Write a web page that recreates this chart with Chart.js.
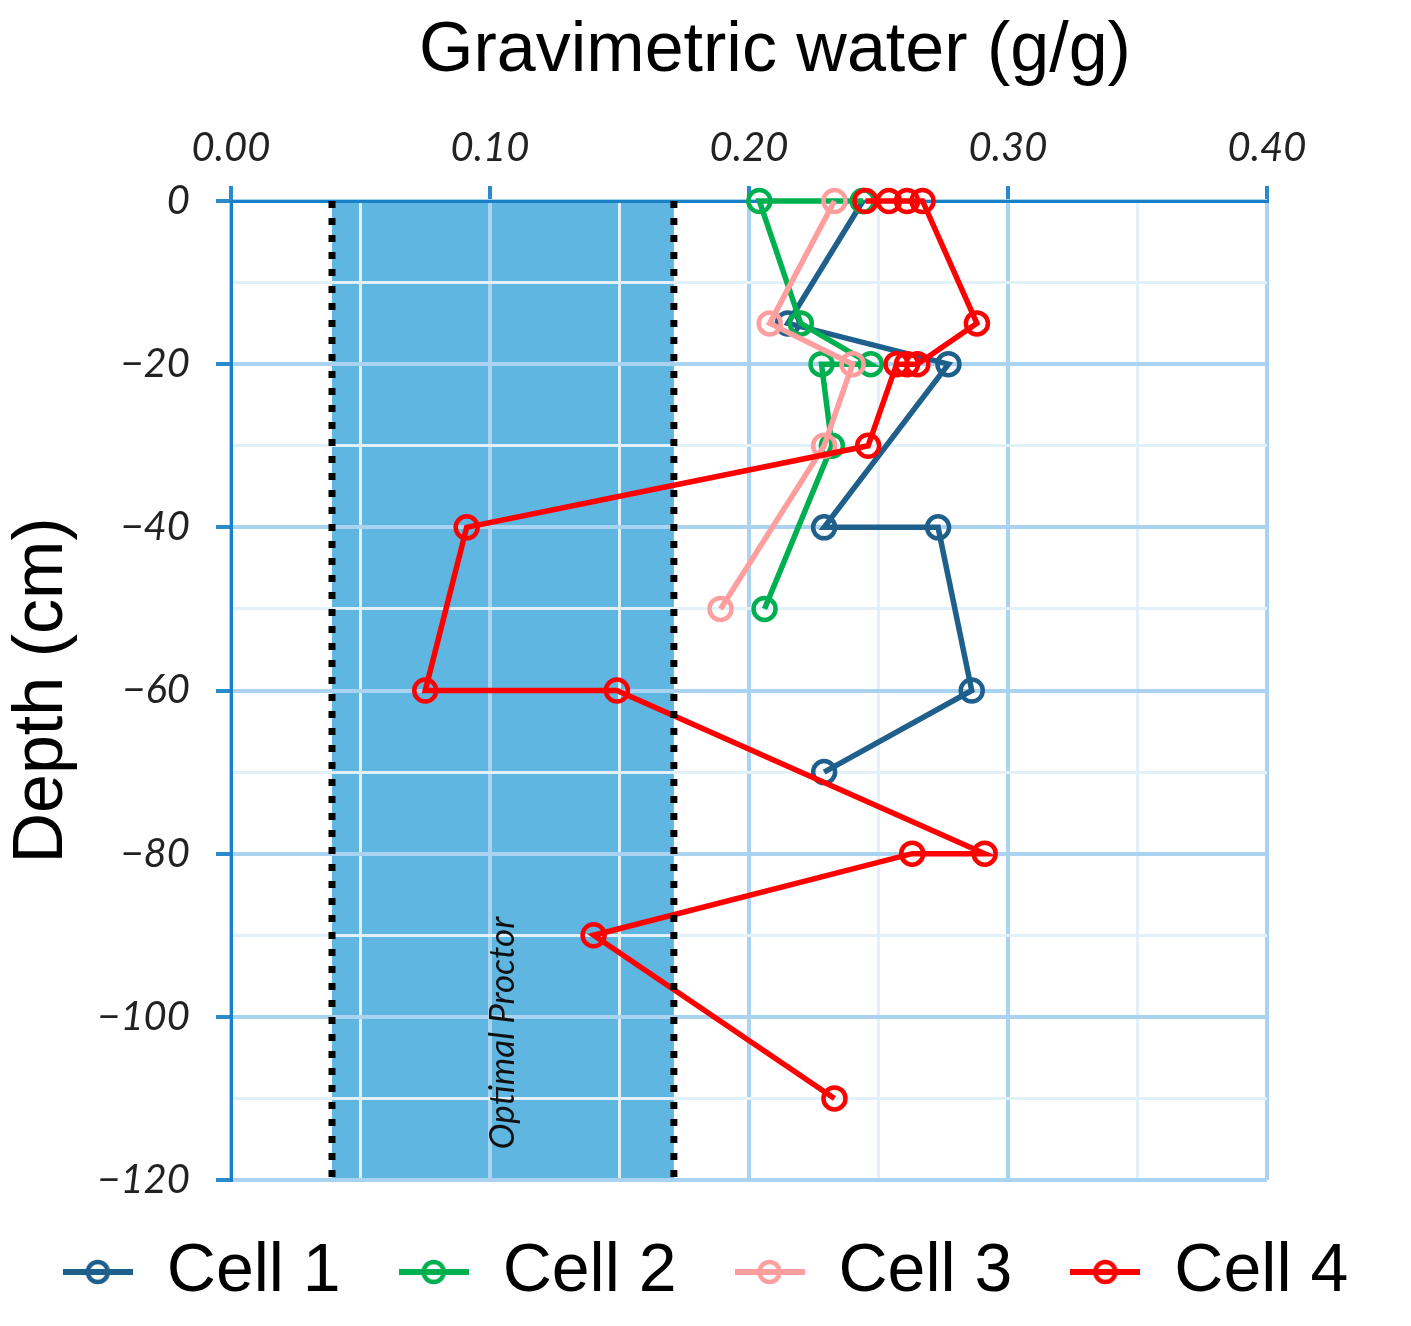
<!DOCTYPE html>
<html>
<head>
<meta charset="utf-8">
<script src="https://cdn.jsdelivr.net/npm/chart.js@4.4.1/dist/chart.umd.min.js"></script>
<style>
body{margin:0;background:#fff;}
</style>
</head>
<body>
<canvas id="profile" width="1411" height="1326"></canvas>
<script>
// depth (cm) and gravimetric water (g/g) per cell
var cell1Depth = [0, -15, -20, -40, -40, -60, -70];
var cell1Water = [0.244, 0.215, 0.277, 0.229, 0.273, 0.286, 0.229];
var cell2Depth = [0, 0, -15, -20, -20, -30, -50];
var cell2Water = [0.244, 0.204, 0.220, 0.247, 0.228, 0.232, 0.206];
var cell3Depth = [0, -15, -20, -30, -50];
var cell3Water = [0.233, 0.208, 0.240, 0.229, 0.189];
var cell4Depth = [0, 0, 0, 0, -15, -20, -20, -20, -30, -40, -60, -60, -80, -80, -90, -110];
var cell4Water = [0.245, 0.254, 0.261, 0.267, 0.288, 0.265, 0.261, 0.257, 0.246, 0.091, 0.075, 0.149, 0.291, 0.263, 0.140, 0.233];

var cellNames = ['Cell 1', 'Cell 2', 'Cell 3', 'Cell 4'];
var proctorRange = [0.039, 0.171];   // optimal Proctor band (g/g)
var proctorLabelDepth = -102;
var depthRange = [-120, 0];
var waterRange = [0, 0.4];

var cellColors = ['#1F5F8B', '#00B050', '#FF9E9E', '#FF0000'];
var majorGrid = '#A9D3F0', minorGrid = '#E2F0FA', axisBlue = '#1780C6';

function pts(w, d){ return w.map(function(v, i){ return {x: v, y: d[i]}; }); }

function legendIcon(color){
  var c = document.createElement('canvas');
  c.width = 70; c.height = 32;
  var g = c.getContext('2d');
  g.strokeStyle = color;
  g.lineWidth = 6;
  g.beginPath(); g.moveTo(0, 16); g.lineTo(70, 16); g.stroke();
  g.lineWidth = 4.5;
  g.beginPath(); g.arc(35, 16, 10, 0, Math.PI * 2); g.stroke();
  return c;
}
var icons = cellColors.map(legendIcon);

var series = [
  pts(cell1Water, cell1Depth),
  pts(cell2Water, cell2Depth),
  pts(cell3Water, cell3Depth),
  pts(cell4Water, cell4Depth)
];

var datasets = series.map(function(data, i){
  return {
    label: cellNames[i],
    data: data,
    showLine: true,
    borderColor: cellColors[i],
    borderWidth: 5.5,
    pointRadius: 11,
    pointBorderWidth: 4.5,
    pointBorderColor: cellColors[i],
    pointBackgroundColor: 'rgba(0,0,0,0)',
    order: 4 - i,
    clip: false
  };
});
proctorRange.forEach(function(p){
  datasets.push({
    label: '',
    data: [{x: p, y: depthRange[1]}, {x: p, y: depthRange[0]}],
    showLine: true,
    borderColor: '#000',
    borderWidth: 7,
    borderDash: [7, 10],
    pointRadius: 0,
    order: 0,
    clip: false
  });
});

function isMajorX(v){ return Math.round(v * 100) % 10 === 0; }
function isMajorY(v){ return Math.round(v) % 20 === 0; }

var decor = {
  id: 'decor',
  beforeDraw: function(chart){
    var ctx = chart.ctx, x = chart.scales.x, y = chart.scales.y;
    var l = x.getPixelForValue(proctorRange[0]), r = x.getPixelForValue(proctorRange[1]);
    var t = y.getPixelForValue(depthRange[1]), b = y.getPixelForValue(depthRange[0]);
    ctx.save();
    ctx.fillStyle = '#5EB6E1';
    ctx.fillRect(l, t, r - l, b - t);
    ctx.restore();
  },
  beforeDatasetsDraw: function(chart){
    var ctx = chart.ctx, x = chart.scales.x, y = chart.scales.y;
    ctx.save();
    ctx.translate(x.getPixelForValue((proctorRange[0] + proctorRange[1]) / 2), y.getPixelForValue(proctorLabelDepth));
    ctx.rotate(-Math.PI / 2);
    ctx.font = 'italic 35px Lato';
    ctx.fillStyle = '#111';
    ctx.textAlign = 'center';
    ctx.textBaseline = 'middle';
    ctx.fillText('Optimal Proctor', 0, 0);
    ctx.restore();
  },
  afterDraw: function(chart){
    var ctx = chart.ctx, a = chart.chartArea;
    ctx.save();
    ctx.font = '70px "Liberation Sans"';
    ctx.fillStyle = '#000';
    ctx.textAlign = 'center';
    ctx.textBaseline = 'middle';
    ctx.fillText('Gravimetric water (g/g)', (a.left + a.right) / 2 + 26, 52);
    ctx.restore();
  }
};

var tickFont = {family: 'Lato', style: 'italic', size: 40};

new Chart(document.getElementById('profile').getContext('2d'), {
  type: 'scatter',
  data: {datasets: datasets},
  options: {
    responsive: false,
    devicePixelRatio: 1,
    animation: false,
    events: [],
    layout: {padding: {top: 110, left: 0, right: 0, bottom: 10}},
    scales: {
      x: {
        type: 'linear', position: 'top',
        min: waterRange[0], max: waterRange[1],
        ticks: {
          stepSize: 0.05, padding: 14, color: '#222', font: tickFont, autoSkip: false, maxRotation: 0,
          callback: function(v){ return isMajorX(v) ? v.toFixed(2) : ''; }
        },
        grid: {
          color: function(c){ return c.tick && !isMajorX(c.tick.value) ? minorGrid : majorGrid; },
          lineWidth: function(c){ return c.tick && !isMajorX(c.tick.value) ? 3 : 4; },
          tickLength: 15,
          tickWidth: 4,
          tickColor: function(c){ return c.tick && !isMajorX(c.tick.value) ? 'rgba(0,0,0,0)' : '#2A8ACB'; }
        },
        border: {color: axisBlue, width: 3}
      },
      y: {
        type: 'linear', position: 'left',
        min: depthRange[0], max: depthRange[1],
        ticks: {
          stepSize: 10, padding: 26, color: '#222', font: tickFont, autoSkip: false,
          callback: function(v){ return isMajorY(v) ? (v < 0 ? '\u2212' + Math.abs(v) : String(v)) : ''; }
        },
        grid: {
          color: function(c){ return c.tick && !isMajorY(c.tick.value) ? minorGrid : majorGrid; },
          lineWidth: function(c){ return c.tick && !isMajorY(c.tick.value) ? 3 : 4; },
          tickLength: 15,
          tickWidth: 4,
          tickColor: function(c){ return c.tick && !isMajorY(c.tick.value) ? 'rgba(0,0,0,0)' : '#2A8ACB'; }
        },
        border: {color: axisBlue, width: 3},
        title: {display: true, text: 'Depth (cm)', color: '#000', font: {family: 'Liberation Sans', size: 70}, padding: {top: 1, bottom: 0}},
        afterFit: function(s){ s.width = 231; }
      },
      rightSpace: {
        type: 'linear', position: 'right', display: true,
        grid: {display: false}, border: {display: false}, ticks: {display: false},
        afterFit: function(s){ s.width = 144; }
      }
    },
    plugins: {
      tooltip: {enabled: false},
      legend: {
        position: 'bottom',
        labels: {
          usePointStyle: true,
          pointStyleWidth: 70,
          padding: 58,
          color: '#000',
          font: {family: 'Liberation Sans', size: 68},
          filter: function(item){ return item.datasetIndex < 4; },
          sort: function(a, b){ return a.datasetIndex - b.datasetIndex; },
          generateLabels: function(chart){
            var items = Chart.defaults.plugins.legend.labels.generateLabels(chart);
            items.forEach(function(it){ if (it.datasetIndex < 4) it.pointStyle = icons[it.datasetIndex]; });
            return items;
          }
        }
      }
    }
  },
  plugins: [decor]
});
</script>
</body>
</html>
